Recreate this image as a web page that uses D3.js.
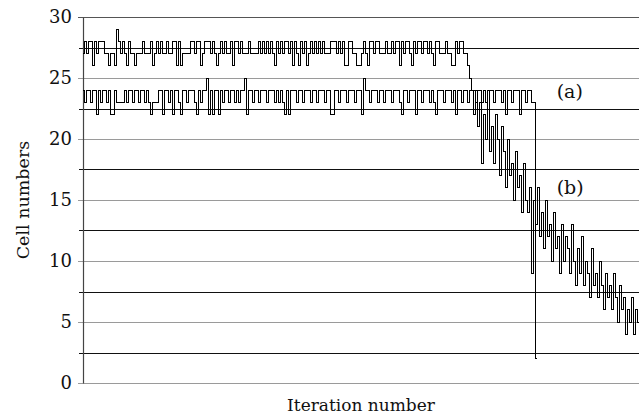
<!DOCTYPE html>
<html>
<head>
<meta charset="utf-8">
<script src="https://cdn.jsdelivr.net/npm/d3@7"></script>
<style>
  body { margin: 0; background: #fff; }
  svg text { font-family: "DejaVu Serif", "Liberation Serif", "Times New Roman", serif; }
</style>
</head>
<body>
<svg id="vis" width="639" height="416"></svg>
<script>
// cell counts per iteration

// (b): the population that holds near 27 and then declines
const seriesB = [
  27,28,27,28,28,26,28,27,28,28,
  28,27,27,26,27,27,26,29,28,27,
  28,27,26,28,27,27,26,27,27,27,
  28,27,27,27,28,26,27,28,27,28,
  27,27,28,27,27,28,28,26,28,26,
  27,27,27,27,28,28,27,28,28,26,
  27,28,28,28,27,28,27,26,27,28,
  27,28,27,27,28,26,28,28,27,28,
  27,27,27,28,27,27,27,27,28,27,
  28,27,28,27,28,27,26,28,27,28,
  27,28,28,27,28,26,28,27,26,28,
  27,28,26,27,28,27,28,27,28,27,
  28,27,27,27,28,28,28,27,28,27,
  28,26,26,28,28,27,27,26,26,27,
  28,27,26,28,28,27,28,28,27,27,
  27,28,27,27,28,27,28,28,26,28,
  27,28,28,27,26,28,27,28,28,27,
  28,28,27,28,27,26,28,28,27,27,
  27,28,27,27,26,26,28,27,28,28,
  27,
  27,26,25,24,22,24,21,23,18,
  22,20,24,19,21,18,22,20,17,21,
  19,16,20,17,18,15,19,16,17,14,
  18,15,14,16,9,15,13,16,12,14,
  11,15,12,13,10,14,11,12,9,13,
  10,12,11,9,13,10,8,11,9,12,
  8,10,9,7,11,8,9,7,10,8,
  6,9,7,8,6,9,7,5,8,6,
  7,4,6,5,7,4,6,5
];

// (a): the population that holds near 23 and then collapses
const seriesA = [
  24,23,24,24,23,24,24,22,24,23,
  24,24,23,24,22,22,24,23,23,23,
  23,24,23,24,24,23,24,24,23,24,
  24,23,24,23,22,23,23,23,24,24,
  22,24,24,23,24,22,24,24,23,22,
  24,24,23,24,24,24,23,22,24,23,
  24,24,25,22,24,22,24,24,22,24,
  23,24,24,23,24,24,23,24,23,24,
  24,25,22,24,24,23,24,24,23,24,
  24,24,23,24,24,24,23,24,23,24,
  23,22,24,22,24,24,24,23,24,24,
  23,24,24,24,23,24,24,23,24,24,
  24,23,24,24,22,22,24,24,23,24,
  24,24,23,24,24,24,23,24,24,22,
  25,24,24,23,24,24,24,23,24,24,
  23,24,24,24,23,24,24,24,23,22,
  24,24,23,24,24,24,22,24,24,23,
  24,24,24,23,24,23,22,24,24,24,
  23,24,24,24,23,24,22,24,24,23,
  24,24,23,24,24,24,23,24,24,23,
  24,23,24,24,24,23,24,24,24,23,
  24,22,24,24,23,24,24,24,22,24,
  24,23,24,24,23,23,
  2
];

const yTicks = [0, 5, 10, 15, 20, 25, 30];
const yHalfLines = [2.5, 7.5, 12.5, 17.5, 22.5, 27.5];
const labels = [
  { text: "(a)", value: 23.35, iter: 236 },
  { text: "(b)", value: 15.5, iter: 236 }
];

const svg = d3.select("#vis");
const plotLeft = 83, plotRight = 639, plotTop = 17, plotBottom = 383;

const x = d3.scaleLinear()
  .domain([0, seriesB.length - 1])
  .range([plotLeft, plotRight]);

const y = d3.scaleLinear()
  .domain([0, 30])
  .range([plotBottom, plotTop]);

// grid lines: grey at the ticks, black half way between
svg.append("g")
  .selectAll("line")
  .data(yTicks)
  .join("line")
  .attr("x1", plotLeft - 5)
  .attr("x2", plotRight)
  .attr("y1", d => Math.round(y(d)) + 0.5)
  .attr("y2", d => Math.round(y(d)) + 0.5)
  .attr("stroke", d => d === 30 ? "#555" : "#9a9a9a")
  .attr("stroke-width", 1);

svg.append("g")
  .selectAll("line")
  .data(yHalfLines)
  .join("line")
  .attr("x1", plotLeft - 4)
  .attr("x2", plotRight)
  .attr("y1", d => Math.round(y(d)) + 0.5)
  .attr("y2", d => Math.round(y(d)) + 0.5)
  .attr("stroke", "#111")
  .attr("stroke-width", 1);

// y axis with labels
const yAxis = svg.append("g")
  .attr("transform", `translate(${plotLeft},0)`)
  .call(d3.axisLeft(y).tickValues(yTicks).tickSize(0).tickPadding(11));

yAxis.attr("font-family", null);

yAxis.select(".domain")
  .attr("stroke", "#444")
  .attr("stroke-width", 1.2);

yAxis.selectAll("text")
  .attr("font-size", "18px")
  .attr("fill", "#111");

// the two series, drawn as steps so the spikes stay vertical
const line = d3.line()
  .x((d, i) => x(i))
  .y(d => y(d))
  .curve(d3.curveStep);

svg.append("path")
  .datum(seriesA)
  .attr("fill", "none")
  .attr("stroke", "#000")
  .attr("stroke-width", 1)
  .attr("shape-rendering", "crispEdges")
  .attr("d", line);

svg.append("path")
  .datum(seriesB)
  .attr("fill", "none")
  .attr("stroke", "#000")
  .attr("stroke-width", 1)
  .attr("shape-rendering", "crispEdges")
  .attr("d", line);

// series labels
svg.append("g")
  .selectAll("text")
  .data(labels)
  .join("text")
  .attr("x", d => x(d.iter))
  .attr("y", d => y(d.value))
  .attr("font-size", "19px")
  .attr("fill", "#111")
  .text(d => d.text);

// axis titles
svg.append("text")
  .attr("x", (plotLeft + plotRight) / 2)
  .attr("y", 411)
  .attr("text-anchor", "middle")
  .attr("font-size", "17px")
  .attr("fill", "#111")
  .text("Iteration number");

svg.append("text")
  .attr("transform", `translate(29,${(plotTop + plotBottom) / 2}) rotate(-90)`)
  .attr("text-anchor", "middle")
  .attr("font-size", "17.5px")
  .attr("fill", "#111")
  .text("Cell numbers");
</script>
</body>
</html>
